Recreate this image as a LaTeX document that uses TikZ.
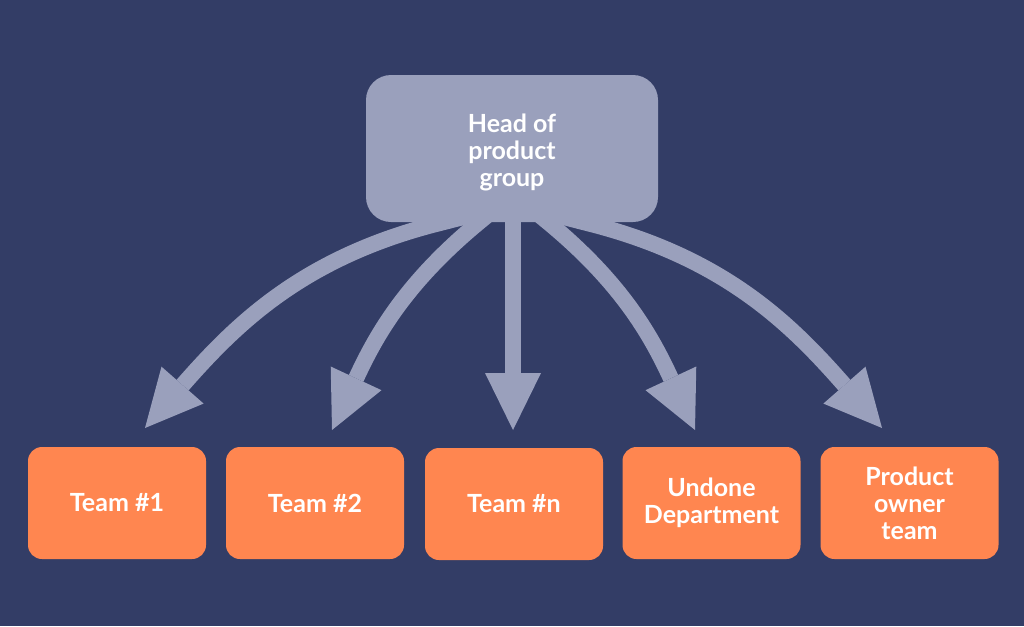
\documentclass[tikz,border=0pt]{standalone}
\usepackage{fontspec}
\setmainfont{Lato}
\usetikzlibrary{arrows.meta}
\definecolor{bgc}{HTML}{333D66}
\definecolor{headc}{HTML}{9AA0BC}
\definecolor{teamc}{HTML}{FF8650}
\pgfdeclarelayer{back}
\pgfdeclarelayer{mid}
\pgfsetlayers{back,mid,main}
\begin{document}
\begin{tikzpicture}[x=1pt,y=-1pt,
  headbox/.style={fill=headc, rounded corners=25pt, minimum width=292pt, minimum height=147pt,
    inner sep=0pt, align=center, text=white, font=\fontsize{25}{27}\selectfont\bfseries},
  teambox/.style={fill=teamc, rounded corners=14pt, minimum width=178pt, minimum height=112pt,
    inner sep=0pt, align=center, text=white, font=\fontsize{25}{27}\selectfont\bfseries},
  flow/.style={draw=headc, line width=16pt,
    -{Triangle[length=57pt,width=56pt,line width=0pt]}}
]
\begin{pgfonlayer}{back}
\fill[bgc] (0,0) rectangle (1024,626);
\end{pgfonlayer}
\useasboundingbox (0,0) rectangle (1024,626);

\node[headbox] (head) at (512,148.5) {};
\node[text=white, align=center, font=\fontsize{25}{27}\selectfont\bfseries] (headtext) at (512,152) {Head of\\product\\group};
\node[teambox] (t1) at (117,503) {Team \#1};
\node[teambox] (t2) at (315,503) {Team \#2};
\node[teambox] (t3) at (514,504) {Team \#n};
\node[teambox] (t4) at (711.5,503) {Undone\\Department};
\node[teambox] (t5) at (909.5,503) {Product\\owner\\team};

% start points (under the head box) and tips (above the teams)
\coordinate (s1) at (479,213); \coordinate (p1) at (440,223); \coordinate (e1) at (145,428);
\coordinate (s2) at (501,204); \coordinate (p2) at (478,223); \coordinate (e2) at (332,430);
\coordinate (s3) at (513,200); \coordinate (e3) at (513,430);
\coordinate (s4) at (526,204); \coordinate (p4) at (549,223); \coordinate (e4) at (695,430);
\coordinate (s5) at (548,213); \coordinate (p5) at (587,223); \coordinate (e5) at (882,428);

\begin{pgfonlayer}{mid}
\draw[flow] (s1) -- (p1) .. controls (304,257) and (237,323) .. (e1);
\draw[flow] (s2) -- (p2) .. controls (402,286) and (374,340) .. (e2);
\draw[flow] (s3) -- (e3);
\draw[flow] (s4) -- (p4) .. controls (625,286) and (653,340) .. (e4);
\draw[flow] (s5) -- (p5) .. controls (723,257) and (790,323) .. (e5);
\end{pgfonlayer}
\end{tikzpicture}
\end{document}
